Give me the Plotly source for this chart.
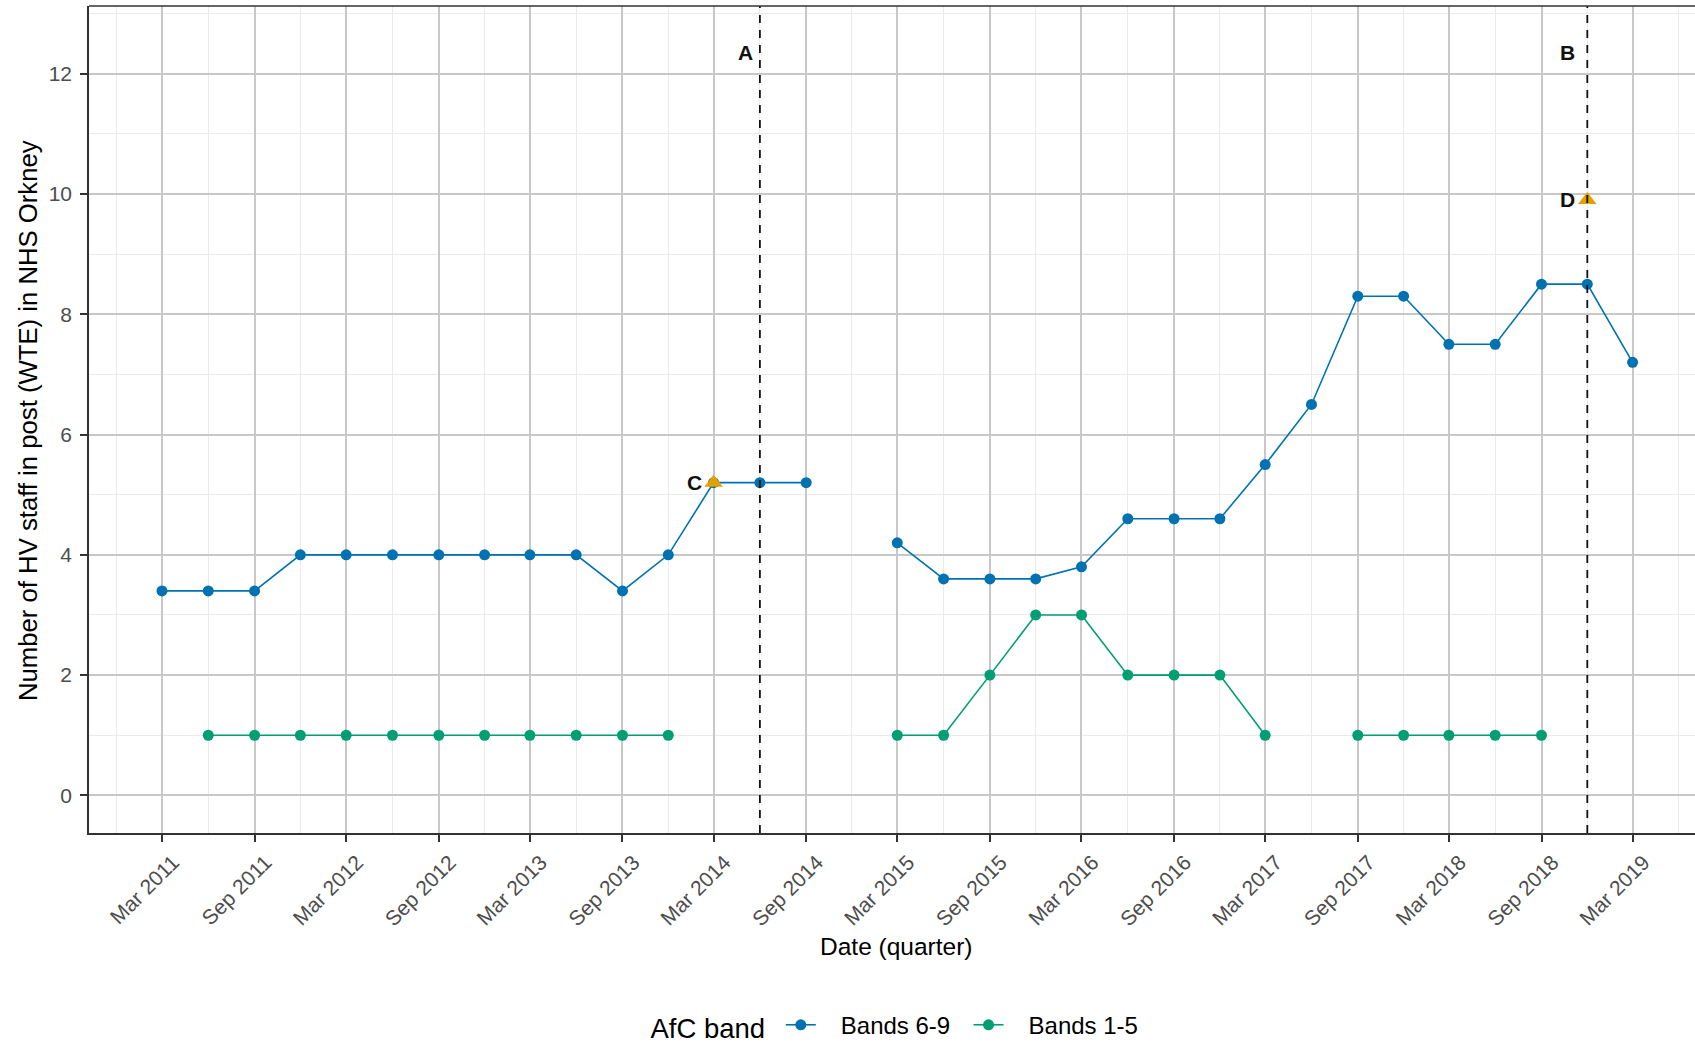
import plotly.graph_objects as go

quarters = [
    "2011-03-01", "2011-06-01", "2011-09-01", "2011-12-01",
    "2012-03-01", "2012-06-01", "2012-09-01", "2012-12-01",
    "2013-03-01", "2013-06-01", "2013-09-01", "2013-12-01",
    "2014-03-01", "2014-06-01", "2014-09-01", "2014-12-01",
    "2015-03-01", "2015-06-01", "2015-09-01", "2015-12-01",
    "2016-03-01", "2016-06-01", "2016-09-01", "2016-12-01",
    "2017-03-01", "2017-06-01", "2017-09-01", "2017-12-01",
    "2018-03-01", "2018-06-01", "2018-09-01", "2018-12-01",
    "2019-03-01",
]
bands_6_9 = [3.4, 3.4, 3.4, 4.0, 4.0, 4.0, 4.0, 4.0, 4.0, 4.0, 3.4, 4.0,
             5.2, 5.2, 5.2, None, 4.2, 3.6, 3.6, 3.6, 3.8, 4.6, 4.6, 4.6,
             5.5, 6.5, 8.3, 8.3, 7.5, 7.5, 8.5, 8.5, 7.2]
bands_1_5 = [None, 1, 1, 1, 1, 1, 1, 1, 1, 1, 1, 1,
             None, None, None, None, 1, 1, 2, 3, 3, 2, 2, 2,
             1, None, 1, 1, 1, 1, 1, None, None]

marker_dates = ["2014-03-01", "2018-12-01"]
marker_values = [5.2, 9.9]
marker_labels = ["C", "D"]

vline_dates = ["2014-06-01", "2018-12-01"]
vline_labels = ["A", "B"]
vline_label_y = 12.35

tick_dates = ["2011-03-01", "2011-09-01", "2012-03-01", "2012-09-01",
              "2013-03-01", "2013-09-01", "2014-03-01", "2014-09-01",
              "2015-03-01", "2015-09-01", "2016-03-01", "2016-09-01",
              "2017-03-01", "2017-09-01", "2018-03-01", "2018-09-01",
              "2019-03-01"]
tick_labels = ["Mar 2011", "Sep 2011", "Mar 2012", "Sep 2012", "Mar 2013",
               "Sep 2013", "Mar 2014", "Sep 2014", "Mar 2015", "Sep 2015",
               "Mar 2016", "Sep 2016", "Mar 2017", "Sep 2017", "Mar 2018",
               "Sep 2018", "Mar 2019"]
minor_dates = ["2010-12-01", "2011-06-01", "2011-12-01", "2012-06-01", "2012-12-01",
               "2013-06-01", "2013-12-01", "2014-06-01", "2014-12-01",
               "2015-06-01", "2015-12-01", "2016-06-01", "2016-12-01",
               "2017-06-01", "2017-12-01", "2018-06-01", "2018-12-01",
               "2019-06-01"]

BLUE = "#0072B2"
GREEN = "#009E73"
ORANGE = "#E69F00"
FONT = "Liberation Sans, Arial, sans-serif"
NB = "\u00a0"

fig = go.Figure()
fig.add_trace(go.Scatter(
    x=quarters, y=bands_6_9, name=NB * 3 + "Bands 6-9" + NB * 2, mode="lines+markers",
    line=dict(color=BLUE, width=1.6), marker=dict(color=BLUE, size=11),
    connectgaps=False,
))
fig.add_trace(go.Scatter(
    x=quarters, y=bands_1_5, name=NB * 3 + "Bands 1-5", mode="lines+markers",
    line=dict(color=GREEN, width=1.6), marker=dict(color=GREEN, size=11),
    connectgaps=False,
))
fig.add_trace(go.Scatter(
    x=marker_dates, y=marker_values, mode="markers", showlegend=False,
    marker=dict(symbol="triangle-up", color=ORANGE, size=16),
))

shapes = []
for d in vline_dates:
    shapes.append(dict(type="line", xref="x", yref="paper", x0=d, x1=d, y0=0, y1=1,
                       line=dict(color="#111111", width=1.8, dash="8px,7px"),
                       layer="above"))
shapes.append(dict(type="line", xref="paper", yref="paper", x0=0, x1=1, y0=1, y1=1,
                   line=dict(color="#333333", width=1.6), layer="above"))

annotations = []
for d, t, sh in zip(vline_dates, vline_labels, [-5, -10]):
    annotations.append(dict(x=d, y=vline_label_y, xref="x", yref="y", text="<b>%s</b>" % t,
                            showarrow=False, xanchor="right", yanchor="middle", xshift=sh,
                            font=dict(family=FONT, size=21, color="#111111")))
for d, v, t in zip(marker_dates, marker_values, marker_labels):
    annotations.append(dict(x=d, y=v, xref="x", yref="y", text="<b>%s</b>" % t,
                            showarrow=False, xanchor="right", yanchor="middle", xshift=-10,
                            font=dict(family=FONT, size=21, color="#111111")))
annotations.append(dict(x=0.503, y=-0.1378, xref="paper", yref="paper",
                        text="Date (quarter)", showarrow=False,
                        xanchor="center", yanchor="middle",
                        font=dict(family=FONT, size=24.5, color="#000000")))
annotations.append(dict(x=-0.038, y=0.4994, xref="paper", yref="paper",
                        text="Number of HV staff in post (WTE) in NHS Orkney",
                        showarrow=False, textangle=-90,
                        xanchor="center", yanchor="middle",
                        font=dict(family=FONT, size=25.7, color="#000000")))

fig.update_layout(
    width=1695, height=1045,
    margin=dict(l=89, r=0, t=6, b=212),
    paper_bgcolor="white", plot_bgcolor="white",
    font=dict(family=FONT, color="#000000"),
    shapes=shapes, annotations=annotations,
    showlegend=True,
    legend=dict(orientation="h", xref="container", x=0.5286, xanchor="center",
                yref="container", y=0.0185, yanchor="middle",
                title=dict(text="AfC band" + NB, font=dict(family=FONT, size=27.5, color="#000000")),
                font=dict(family=FONT, size=24, color="#000000"),
                bgcolor="rgba(0,0,0,0)"),
)
fig.update_xaxes(
    type="date", range=["2010-10-07", "2019-07-03"],
    tickmode="array", tickvals=tick_dates, ticktext=tick_labels,
    tickangle=-45, tickfont=dict(family=FONT, size=21, color="#4D4D4D"),
    ticklabelshift=11,
    ticks="outside", ticklen=7, tickwidth=1.5, tickcolor="#333333",
    showgrid=True, gridcolor="#C8C8C8", gridwidth=1.6,
    minor=dict(tickmode="array", tickvals=minor_dates, showgrid=True,
               gridcolor="#EBEBEB", gridwidth=1, ticks=""),
    showline=True, linecolor="#333333", linewidth=1.6,
    zeroline=False, automargin=False,
)
fig.update_yaxes(
    range=[-0.625, 13.125], tickmode="array", tickvals=[0, 2, 4, 6, 8, 10, 12],
    tickfont=dict(family=FONT, size=21, color="#4D4D4D"),
    ticklabelstandoff=4,
    ticks="outside", ticklen=7, tickwidth=1.5, tickcolor="#333333",
    showgrid=True, gridcolor="#C8C8C8", gridwidth=1.6,
    minor=dict(tickmode="array", tickvals=[1, 3, 5, 7, 9, 11, 13], showgrid=True,
               gridcolor="#EBEBEB", gridwidth=1, ticks=""),
    showline=True, linecolor="#333333", linewidth=1.6,
    zeroline=False, automargin=False,
)

page_fix = (
    "document.documentElement.style.margin='0px';"
    "document.documentElement.style.overflow='hidden';"
    "document.body.style.margin='0px';"
    "document.body.style.overflow='hidden';"
)

fig.write_html("out.html",
               config={"displayModeBar": False},
               post_script=page_fix)
